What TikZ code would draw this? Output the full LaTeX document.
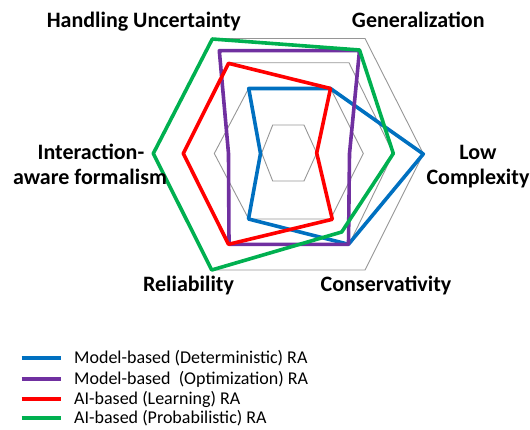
\documentclass[tikz,border=0pt]{standalone}
\usepackage{fontspec}
\setmainfont{Carlito}
\definecolor{cblue}{RGB}{0,112,192}
\definecolor{cpurple}{RGB}{112,48,160}
\definecolor{cred}{RGB}{255,0,0}
\definecolor{cgreen}{RGB}{0,176,80}
\definecolor{cgrid}{RGB}{150,150,150}
\begin{document}
\begin{tikzpicture}[x=1pt,y=-1pt,
  gridline/.style={draw=cgrid,line width=0.9pt,line join=miter},
  series/.style={line width=3.6pt,line join=round},
  axlabel/.style={font=\fontsize{22}{24}\selectfont\bfseries,inner sep=0pt,anchor=base},
  legtext/.style={font=\fontsize{18}{20}\selectfont,inner sep=0pt,anchor=west},
  legline/.style={line width=3.6pt}]
\useasboundingbox (0,0) rectangle (530,429);
% grid hexagons
\draw[gridline] (261.7,153) -- (272.7,125) -- (304,125) -- (316.7,153) -- (304,181) -- (272.7,181) -- cycle;
\draw[gridline] (214.3,153.5) -- (248.7,88.3) -- (330.5,88.3) -- (363.3,153.5) -- (330.5,219) -- (248.7,219) -- cycle;
\draw[gridline] (183.3,153.5) -- (230,62.7) -- (349,62.7) -- (393.3,153.5) -- (349,244.5) -- (230,244.5) -- cycle;
\draw[gridline] (153.3,153.7) -- (212.3,38.5) -- (365,38.5) -- (423.3,153.7) -- (365,270) -- (211.7,270) -- cycle;
% series
\draw[series,cblue] (248.7,88.5) -- (330.5,88.5) -- (423.3,154) -- (348.5,244.3) -- (248.5,219) -- (260.5,153.5) -- cycle;
\draw[series,cpurple] (219.3,50.7) -- (359.5,50.5) -- (349.5,153.5) -- (348.5,244.3) -- (229,244.3) -- (228.5,153.5) -- cycle;
\draw[series,cred] (228.5,63.3) -- (330.5,88.5) -- (316.7,153) -- (332.3,219.3) -- (228.5,244.3) -- (183.3,153.5) -- cycle;
\draw[series,cgreen] (212.3,39) -- (359.5,50) -- (393.3,153.5) -- (341.7,232) -- (211.7,270) -- (153.3,153.5) -- cycle;
% axis labels
\node[axlabel] (hu) at (143.8,27.3) {Handling Uncertainty};
\node[axlabel] (gen) at (418.3,27.3) {Generalization};
\node[axlabel] (lc1) at (478,159) {Low};
\node[axlabel] (lc2) at (478,184) {Complexity};
\node[axlabel] (ia1) at (91,159) {Interaction-};
\node[axlabel] (ia2) at (90,184) {aware formalism};
\node[axlabel] (rel) at (188.5,291.7) {Reliability};
\node[axlabel] (con) at (386,291.7) {Conservativity};
% legend
\coordinate (l1a) at (21.7,358); \coordinate (l1b) at (60.7,358);
\coordinate (l2a) at (21.7,379); \coordinate (l2b) at (60.7,379);
\coordinate (l3a) at (21.7,399); \coordinate (l3b) at (60.7,399);
\coordinate (l4a) at (21.7,418); \coordinate (l4b) at (60.7,418);
\draw[legline,cblue] (l1a) -- (l1b);
\draw[legline,cpurple] (l2a) -- (l2b);
\draw[legline,cred] (l3a) -- (l3b);
\draw[legline,cgreen] (l4a) -- (l4b);
\node[legtext] (t1) at (74,358) {Model-based (Deterministic) RA};
\node[legtext] (t2) at (74,379) {Model-based~ (Optimization) RA};
\node[legtext] (t3) at (74,399) {AI-based (Learning) RA};
\node[legtext] (t4) at (74,418) {AI-based (Probabilistic) RA};
\end{tikzpicture}
\end{document}
